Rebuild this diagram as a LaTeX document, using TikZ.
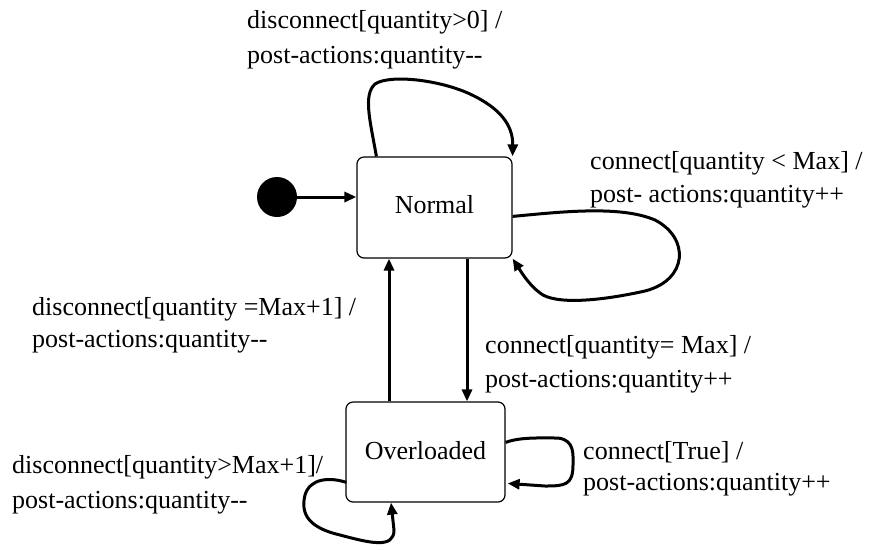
\documentclass[tikz,border=0pt]{standalone}
\usepackage{fontspec}
\newfontfamily\lbl{Liberation Serif}[Ligatures=TeXOff]
\usetikzlibrary{arrows.meta,calc}
\begin{document}
\begin{tikzpicture}[x=1pt,y=-1pt,
  statebox/.style={draw,line width=1.2pt,rounded corners=7pt,inner sep=0pt,font=\lbl\fontsize{26}{34}\selectfont},
  conn/.style={line width=3pt,-{Triangle[length=12pt,width=10pt]}},
  lbltext/.style={anchor=base west,inner sep=0pt,font=\lbl\fontsize{26}{34}\selectfont}]
\useasboundingbox[fill=white] (0,0) rectangle (869,550);
% states
\node[statebox,minimum width=155pt,minimum height=101pt] (normal) at (434.5,207.5)
  {\raisebox{7pt}{Normal}\hspace{12pt}};
\node[statebox,minimum width=159pt,minimum height=100pt] (over) at (425.5,452)
  {\raisebox{4pt}{Overloaded}\hspace{14pt}};
\node[circle,fill=black,minimum size=40pt,inner sep=0pt] (init) at (277,197) {};
% helper x positions
\coordinate (xd) at (467,0);
\coordinate (xu) at (389,0);
% initial
\draw[conn] (init.east) -- (normal.west |- init.east);
% vertical transitions
\draw[conn] (normal.south -| xd) -- (over.north -| xd);
\draw[conn] (over.north -| xu) -- (normal.south -| xu);
% self loop top of Normal
\draw[conn] ($(normal.north west)+(20,0)$) .. controls (370,120) and (363,95) .. (375,84)
  .. controls (390,74) and (440,80) .. (470,94)
  .. controls (500,108) and (513,125) .. (normal.north east);
% self loop right of Normal
\draw[conn] ($(normal.north east)+(0,60)$) .. controls (560,212) and (620,205) .. (655,220)
  .. controls (690,238) and (688,280) .. (645,291)
  .. controls (600,301) and (555,305) .. (540,293)
  .. controls (528,284) and (520,270) .. (normal.south east);
% self loop right of Overloaded
\draw[conn] ($(over.north east)+(0,41)$) .. controls (520,437) and (540,438) .. (558,438)
  .. controls (575,440) and (573,455) .. (573,465)
  .. controls (573,485) and (565,486) .. (545,486) -- ($(over.north east)+(2,82)$);
% self loop left/bottom of Overloaded
\coordinate (xl) at (391,0);
\draw[conn] ($(over.north west)+(1,81)$) .. controls (330,477) and (310,478) .. (305,495)
  .. controls (300,515) and (310,528) .. (340,535)
  .. controls (370,543) and (394,549) .. (394,530) -- (over.south -| xl);
% labels
\node[lbltext] (l1a) at (247,28) {disconnect[quantity>0] /};
\node[lbltext] (l1b) at (247,63) {post-actions:quantity-{}-};
\node[lbltext] (l2a) at (590,169) {connect[quantity < Max] /};
\node[lbltext] (l2b) at (590,202) {post- actions:quantity++};
\node[lbltext] (l3a) at (32,315) {disconnect[quantity =Max+1] /};
\node[lbltext] (l3b) at (32,347) {post-actions:quantity-{}-};
\node[lbltext] (l4a) at (12,473) {disconnect[quantity>Max+1]/};
\node[lbltext] (l4b) at (12,508) {post-actions:quantity-{}-};
\node[lbltext] (l5a) at (485,353) {connect[quantity= Max] /};
\node[lbltext] (l5b) at (485,387) {post-actions:quantity++};
\node[lbltext] (l6a) at (583,459) {connect[True] /};
\node[lbltext] (l6b) at (583,490) {post-actions:quantity++};
\end{tikzpicture}
\end{document}
